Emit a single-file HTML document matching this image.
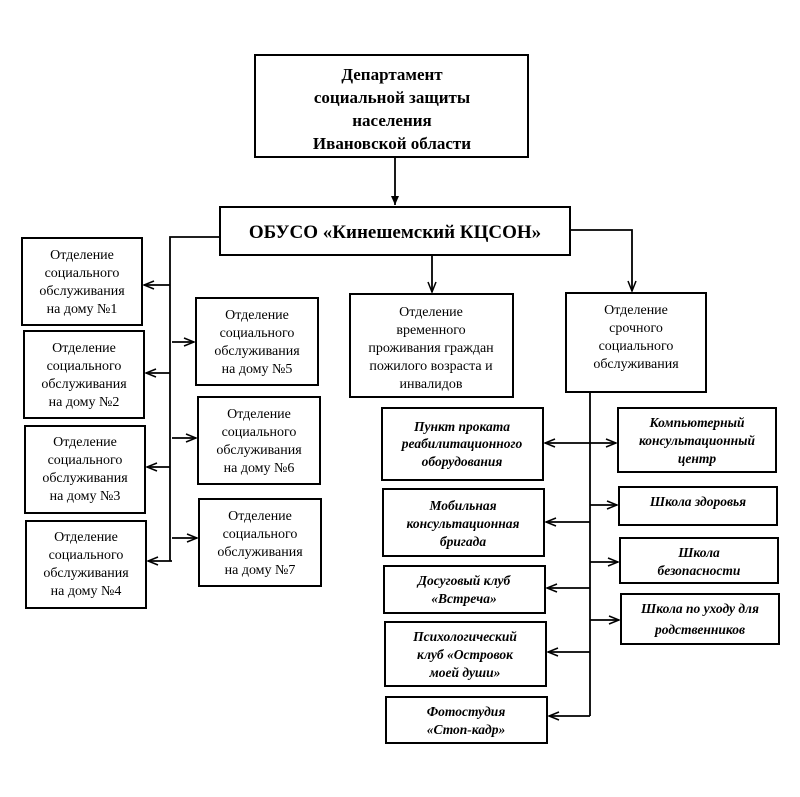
<!DOCTYPE html>
<html><head><meta charset="utf-8"><style>
html,body{margin:0;padding:0;background:#fff}
svg text{font-family:"Liberation Serif",serif;fill:#000}
.b{font-weight:bold}
.i{font-weight:bold;font-style:italic}
</style></head><body>
<svg width="800" height="792" viewBox="0 0 800 792" xmlns="http://www.w3.org/2000/svg">
<defs><marker id="a" markerWidth="12" markerHeight="10" refX="11" refY="5" orient="auto" markerUnits="userSpaceOnUse"><path d="M1,1 L11,5 L1,9" fill="none" stroke="#000" stroke-width="1.5"/></marker>
<marker id="f" markerWidth="10" markerHeight="10" refX="9" refY="5" orient="auto" markerUnits="userSpaceOnUse"><path d="M0,1 L9,5 L0,9z" fill="#000"/></marker></defs>
<g fill="none" stroke="#000" stroke-width="2">
<rect x="255" y="55" width="273" height="102"/>
<rect x="220" y="207" width="350" height="48"/>
<rect x="22" y="238" width="120" height="87"/>
<rect x="24" y="331" width="120" height="87"/>
<rect x="25" y="426" width="120" height="87"/>
<rect x="26" y="521" width="120" height="87"/>
<rect x="196" y="298" width="122" height="87"/>
<rect x="198" y="397" width="122" height="87"/>
<rect x="199" y="499" width="122" height="87"/>
<rect x="350" y="294" width="163" height="103"/>
<rect x="566" y="293" width="140" height="99"/>
<rect x="382" y="408" width="161" height="72"/>
<rect x="383" y="489" width="161" height="67"/>
<rect x="384" y="566" width="161" height="47"/>
<rect x="385" y="622" width="161" height="64"/>
<rect x="386" y="697" width="161" height="46"/>
<rect x="618" y="408" width="158" height="64"/>
<rect x="619" y="487" width="158" height="38"/>
<rect x="620" y="538" width="158" height="45"/>
<rect x="621" y="594" width="158" height="50"/>
</g>
<g fill="none" stroke="#000" stroke-width="1.8">
<line x1="395" y1="157" x2="395" y2="205" marker-end="url(#f)"/>
<polyline points="220,237 170,237 170,561"/>
<line x1="170" y1="285" x2="144" y2="285" marker-end="url(#a)"/>
<line x1="170" y1="373" x2="146" y2="373" marker-end="url(#a)"/>
<line x1="170" y1="467" x2="147" y2="467" marker-end="url(#a)"/>
<line x1="172" y1="561" x2="148" y2="561" marker-end="url(#a)"/>
<line x1="172" y1="342" x2="194" y2="342" marker-end="url(#a)"/>
<line x1="172" y1="438" x2="196" y2="438" marker-end="url(#a)"/>
<line x1="172" y1="538" x2="197" y2="538" marker-end="url(#a)"/>
<line x1="432" y1="255" x2="432" y2="292" marker-end="url(#a)"/>
<polyline points="570,230 632,230 632,291" marker-end="url(#a)"/>
<line x1="590" y1="392" x2="590" y2="716"/>
<line x1="590" y1="443" x2="545" y2="443" marker-end="url(#a)"/>
<line x1="590" y1="443" x2="616" y2="443" marker-end="url(#a)"/>
<line x1="590" y1="522" x2="546" y2="522" marker-end="url(#a)"/>
<line x1="590" y1="588" x2="547" y2="588" marker-end="url(#a)"/>
<line x1="590" y1="652" x2="548" y2="652" marker-end="url(#a)"/>
<line x1="590" y1="716" x2="549" y2="716" marker-end="url(#a)"/>
<line x1="590" y1="505" x2="617" y2="505" marker-end="url(#a)"/>
<line x1="590" y1="562" x2="618" y2="562" marker-end="url(#a)"/>
<line x1="590" y1="620" x2="619" y2="620" marker-end="url(#a)"/>
</g>
<g text-anchor="middle">
<text class="b" font-size="17" x="392" y="80">Департамент</text>
<text class="b" font-size="17" x="392" y="103">социальной защиты</text>
<text class="b" font-size="17" x="392" y="126">населения</text>
<text class="b" font-size="17" x="392" y="149">Ивановской области</text>
<text class="b" font-size="19" x="395" y="238">ОБУСО «Кинешемский КЦСОН»</text>
<g font-size="14">
<text x="82" y="259">Отделение</text><text x="82" y="277">социального</text><text x="82" y="295">обслуживания</text><text x="82" y="313">на дому №1</text>
<text x="84" y="352">Отделение</text><text x="84" y="370">социального</text><text x="84" y="388">обслуживания</text><text x="84" y="406">на дому №2</text>
<text x="85" y="446">Отделение</text><text x="85" y="464">социального</text><text x="85" y="482">обслуживания</text><text x="85" y="500">на дому №3</text>
<text x="86" y="541">Отделение</text><text x="86" y="559">социального</text><text x="86" y="577">обслуживания</text><text x="86" y="595">на дому №4</text>
<text x="257" y="319">Отделение</text><text x="257" y="337">социального</text><text x="257" y="355">обслуживания</text><text x="257" y="373">на дому №5</text>
<text x="259" y="418">Отделение</text><text x="259" y="436">социального</text><text x="259" y="454">обслуживания</text><text x="259" y="472">на дому №6</text>
<text x="260" y="520">Отделение</text><text x="260" y="538">социального</text><text x="260" y="556">обслуживания</text><text x="260" y="574">на дому №7</text>
<text x="431" y="316">Отделение</text><text x="431" y="334">временного</text><text x="431" y="352">проживания граждан</text><text x="431" y="370">пожилого возраста и</text><text x="431" y="388">инвалидов</text>
<text x="636" y="314">Отделение</text><text x="636" y="332">срочного</text><text x="636" y="350">социального</text><text x="636" y="368">обслуживания</text>
</g>
<g font-size="13.5" class="i">
<text x="462" y="431">Пункт проката</text><text x="462" y="448">реабилитационного</text><text x="462" y="466">оборудования</text>
<text x="463" y="510">Мобильная</text><text x="463" y="528">консультационная</text><text x="463" y="546">бригада</text>
<text x="464" y="585">Досуговый клуб</text><text x="464" y="603">«Встреча»</text>
<text x="465" y="641">Психологический</text><text x="465" y="659">клуб «Островок</text><text x="465" y="677">моей души»</text>
<text x="466" y="716">Фотостудия</text><text x="466" y="734">«Стоп-кадр»</text>
<text x="697" y="427">Компьютерный</text><text x="697" y="445">консультационный</text><text x="697" y="463">центр</text>
<text x="698" y="506">Школа здоровья</text>
<text x="699" y="557">Школа</text><text x="699" y="575">безопасности</text>
<text x="700" y="613">Школа по уходу для</text><text x="700" y="634">родственников</text>
</g>
</g>
</svg>
</body></html>
